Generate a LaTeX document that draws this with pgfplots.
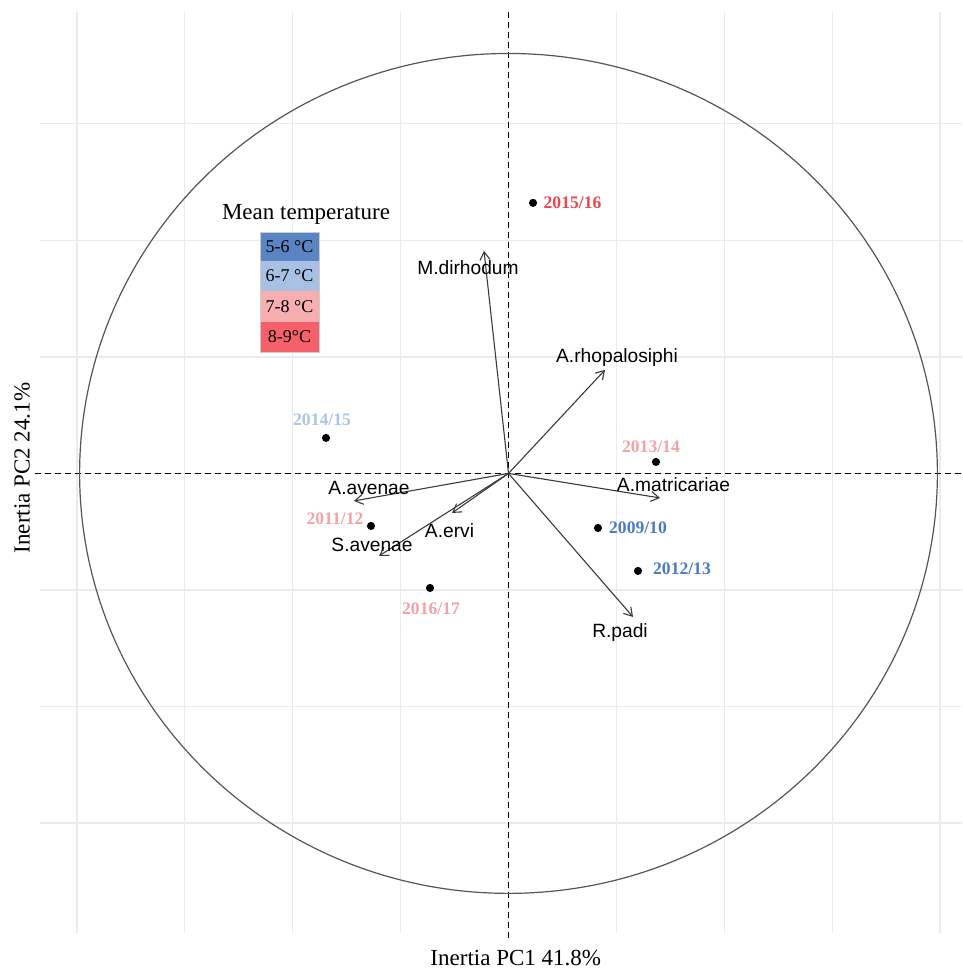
\documentclass[border=0pt]{standalone}
\usepackage{fontspec}
\setmainfont{Liberation Serif}
\newfontfamily\arialfont{Liberation Sans}
\usepackage{pgfplots}
\pgfplotsset{compat=1.18}
\usetikzlibrary{arrows.meta}

\definecolor{gridgray}{HTML}{EBEBEB}
\definecolor{circcol}{HTML}{555555}
\definecolor{arrcol}{HTML}{3A3A3A}
\definecolor{cA}{HTML}{5B84C4}
\definecolor{cB}{HTML}{A8C0E3}
\definecolor{cC}{HTML}{F7AEB1}
\definecolor{cD}{HTML}{F4616A}
\definecolor{yred}{HTML}{E8474F}
\definecolor{ylblue}{HTML}{A9C4E8}
\definecolor{ypink}{HTML}{F2A3A7}
\definecolor{yblue}{HTML}{4A7BC2}

\newcommand{\yrfont}{\bfseries\fontsize{8.8}{10}\selectfont}
\newcommand{\spfont}{\arialfont\fontsize{9.6}{11}\selectfont}

\pgfplotsset{
  year/.style={only marks, mark=*, mark size=1.8pt, black,
    nodes near coords style={anchor=center, font=\yrfont}},
  load/.style={arrcol, line width=0.55pt, no marks,
    -{Straight Barb[length=4pt,width=5pt]}},
}

\begin{document}
\begin{tikzpicture}
\begin{axis}[
  scale only axis, width=461pt, height=460.5pt,
  xmin=-1.0858, xmax=1.051, ymin=-0.986, ymax=0.990,
  axis line style={draw=none}, tick style={draw=none},
  xtick={-1,-0.75,-0.5,-0.25,0,0.25,0.5,0.75,1},
  ytick={-0.75,-0.5,-0.25,0,0.25,0.5,0.75},
  xticklabels={}, yticklabels={},
  grid=major, major grid style={draw=gridgray, line width=0.6pt},
  clip=false,
  xlabel={Inertia PC1 41.8\%},
  ylabel={Inertia PC2 24.1\%},
  xlabel style={at={(rel axis cs:0.516,-0.0271)}, anchor=center, inner sep=0pt,
    font=\fontsize{11.5}{13}\selectfont},
  ylabel style={at={(rel axis cs:-0.0195,0.505)}, anchor=center, inner sep=0pt,
    font=\fontsize{11.5}{13}\selectfont},
]
\coordinate (ll) at (rel axis cs:0,0);
\coordinate (ur) at (rel axis cs:1,1);

% reference lines and correlation circle
\draw[black, line width=0.5pt, dash pattern=on 3pt off 2pt] (axis cs:0,0.99) -- (axis cs:0,-0.997);
\draw[black, line width=0.5pt, dash pattern=on 3pt off 2pt] (axis cs:-1.098,0) -- (axis cs:1.051,0);
\draw[circcol, line width=0.6pt] (axis cs:0,0) ellipse [x radius=0.994, y radius=0.901];

% species loadings
\addplot[load] coordinates {(0,0) (-0.0568,0.4775)};
\addplot[load] coordinates {(0,0) (0.2236,0.2221)};
\addplot[load] coordinates {(0,0) (0.3511,-0.0526)};
\addplot[load] coordinates {(0,0) (0.2885,-0.3079)};
\addplot[load] coordinates {(0,0) (-0.3581,-0.0590)};
\addplot[load] coordinates {(0,0) (-0.3001,-0.1770)};
\addplot[load] coordinates {(0,0) (-0.1309,-0.0848)};

\node[font=\spfont] at (axis cs:-0.0939,0.441) {M.dirhodum};
\node[font=\spfont] at (axis cs:0.2515,0.2479) {A.rhopalosiphi};
\node[font=\spfont] at (axis cs:0.3824,-0.0247) {A.matricariae};
\node[font=\spfont] at (axis cs:0.2584,-0.3423) {R.padi};
\node[font=\spfont] at (axis cs:-0.3233,-0.0311) {A.avenae};
\node[font=\spfont] at (axis cs:-0.3163,-0.1534) {S.avenae};
\node[font=\spfont] at (axis cs:-0.1367,-0.1234) {A.ervi};

% years
\addplot[year, nodes near coords={2015/16}, nodes near coords style={xshift=19.75pt, text=yred}]
  coordinates {(0.0568,0.5805)};
\addplot[year, nodes near coords={2014/15}, nodes near coords style={xshift=-2pt, yshift=9pt, text=ylblue}]
  coordinates {(-0.4229,0.0762)};
\addplot[year, nodes near coords={2013/14}, nodes near coords style={xshift=-2.5pt, yshift=7.5pt, text=ypink}]
  coordinates {(0.3418,0.0247)};
\addplot[year, nodes near coords={2011/12}, nodes near coords style={xshift=-18pt, yshift=3.5pt, text=ypink}]
  coordinates {(-0.3187,-0.1127)};
\addplot[year, nodes near coords={2009/10}, nodes near coords style={xshift=20pt, text=yblue}]
  coordinates {(0.2074,-0.1170)};
\addplot[year, nodes near coords={2012/13}, nodes near coords style={xshift=22pt, yshift=1pt, text=yblue}]
  coordinates {(0.3001,-0.2092)};
\addplot[year, nodes near coords={2016/17}, nodes near coords style={xshift=0.5pt, yshift=-10.5pt, text=ypink}]
  coordinates {(-0.1819,-0.2457)};

% temperature key
\node[font=\fontsize{11.5}{13}\selectfont] at (axis cs:-0.4693,0.5547) {Mean temperature};
\fill[cA] (axis cs:-0.5759,0.5182) rectangle (axis cs:-0.4392,0.4560);
\fill[cB] (axis cs:-0.5759,0.4560) rectangle (axis cs:-0.4392,0.3916);
\fill[cC] (axis cs:-0.5759,0.3916) rectangle (axis cs:-0.4392,0.3251);
\fill[cD] (axis cs:-0.5759,0.3251) rectangle (axis cs:-0.4392,0.2607);
\draw[gray!40, line width=0.3pt] (axis cs:-0.5759,0.5182) rectangle (axis cs:-0.4392,0.2607);
\node[font=\fontsize{9}{10}\selectfont] at (axis cs:-0.5076,0.4871) {5-6 °C};
\node[font=\fontsize{9}{10}\selectfont] at (axis cs:-0.5076,0.4238) {6-7 °C};
\node[font=\fontsize{9}{10}\selectfont] at (axis cs:-0.5076,0.3584) {7-8 °C};
\node[font=\fontsize{9}{10}\selectfont] at (axis cs:-0.5076,0.2929) {8-9°C};
\end{axis}
\path ([shift={(-20pt,-18.5pt)}]ll) rectangle ([shift={(0pt,6pt)}]ur);
\end{tikzpicture}
\end{document}
